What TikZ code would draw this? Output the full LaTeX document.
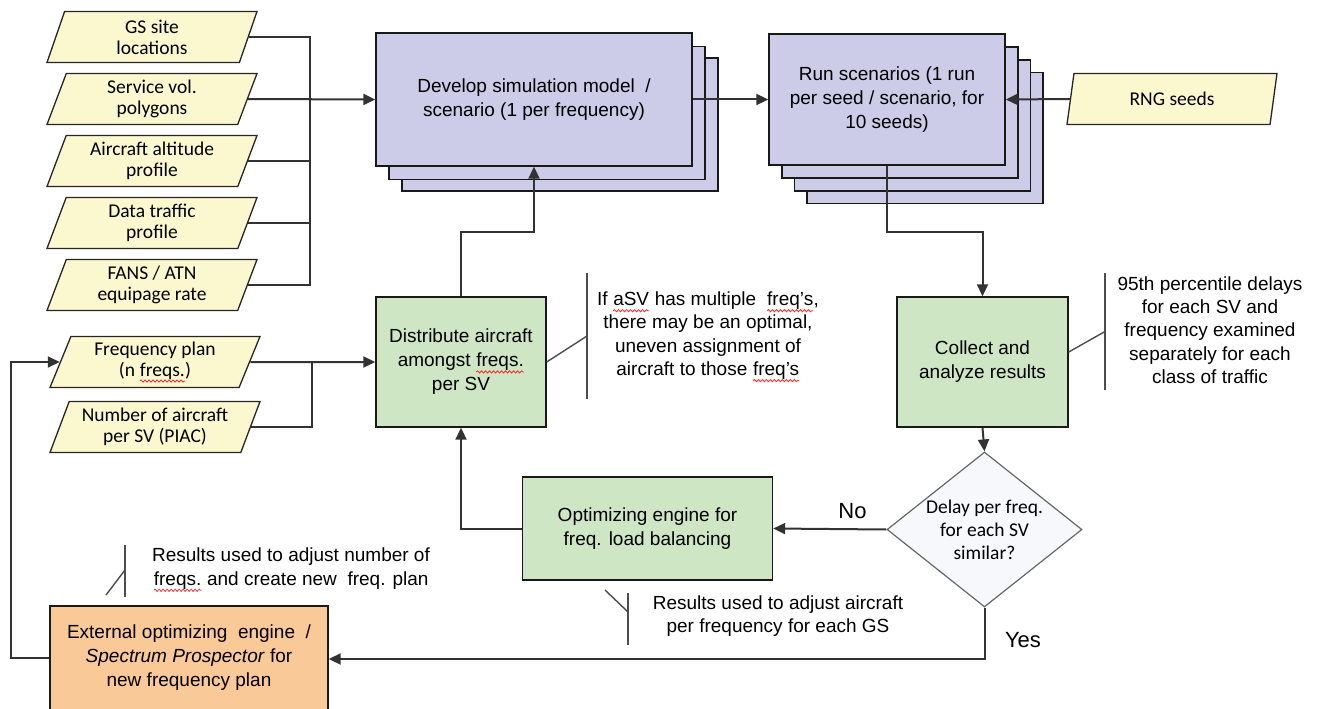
\documentclass[tikz,border=0pt]{standalone}
\usepackage{fontspec}
\setmainfont{Liberation Sans}
\newfontfamily\calibri{Carlito}
\usetikzlibrary{shapes.geometric}
\usetikzlibrary{shadows}
\usetikzlibrary{arrows.meta}
\usetikzlibrary{calc}
\usetikzlibrary{decorations.pathmorphing}

\definecolor{datafill}{RGB}{251,247,206}
\definecolor{simfill}{RGB}{204,204,232}
\definecolor{procfill}{RGB}{207,230,197}
\definecolor{extfill}{RGB}{250,201,152}
\definecolor{decfill}{RGB}{247,248,252}
\definecolor{wire}{RGB}{50,50,50}

% red wavy mark under a word
\newcommand{\spellmark}[1]{\tikz[baseline=(w.base)]{%
	\node[rectangle, draw=none, fill=none, inner sep=0pt, outer sep=0pt,
		minimum width=0pt, minimum height=0pt] (w) {#1};
	\draw[red!85, line width=0.8pt, decorate,
		decoration={snake, amplitude=1.1pt, segment length=4pt}]
		([yshift=-5pt]w.base west) -- ([yshift=-5pt]w.base east);}}

\tikzset{
	datain/.style={trapezium, trapezium left angle=63, trapezium right angle=117,
		trapezium stretches body=true,
		draw=black!85, line width=1.3pt, fill=datafill, minimum width=210pt,
		minimum height=51pt, inner sep=0pt, align=center,
		font=\calibri\fontsize{19.5}{21}\selectfont},
	proc/.style={rectangle, draw=black!90, line width=1.4pt, fill=procfill,
		inner sep=0pt, align=center, font=\fontsize{19}{24}\selectfont},
	simbox/.style={proc, fill=simfill},
	decide/.style={diamond, draw=black!60, line width=1.2pt, fill=decfill,
		minimum width=195pt, minimum height=155pt, aspect=1.26, inner sep=0pt,
		align=center, font=\calibri\fontsize{19.5}{23}\selectfont},
	notetext/.style={align=center, inner sep=0pt, font=\fontsize{19}{23.3}\selectfont},
	yesno/.style={inner sep=0pt, font=\fontsize{22}{24}\selectfont},
	line/.style={draw=wire, line width=2pt},
	arr/.style={line, -{Triangle[length=12pt,width=11pt]}},
	note/.style={draw=black!70, line width=1.4pt}
}

\begin{document}
\begin{tikzpicture}[x=1pt,y=-1pt]
	\useasboundingbox (0,0) rectangle (1318,709);

	% inputs
	\node[datain] (gs) at (152,37) {GS site\\locations};
	\node[datain] (svp) at (152,99) {Service vol.\\polygons};
	\node[datain] (alt) at (152,161) {Aircraft altitude\\profile};
	\node[datain] (dtp) at (152,223) {Data traffic\\profile};
	\node[datain] (fans) at (152,285) {FANS / ATN\\equipage rate};
	\node[datain] (fplan) at (155,362) {Frequency plan\\(n \spellmark{freqs.})};
	\node[datain] (nac) at (155,427) {Number of aircraft\\per SV (PIAC)};
	\node[datain] (rng) at (1172,99) {RNG seeds};

	% stacked boxes
	\node[simbox, minimum width=316pt, minimum height=133pt,
		copy shadow={shadow xshift=26pt, shadow yshift=-25pt},
		copy shadow={shadow xshift=13pt, shadow yshift=-13.5pt}]
		(dev) at (534,99.5) {Develop simulation model~ /\\scenario (1 per frequency)};
	\node[simbox, minimum width=236pt, minimum height=131pt,
		copy shadow={shadow xshift=38pt, shadow yshift=-38.5pt},
		copy shadow={shadow xshift=25.5pt, shadow yshift=-26pt},
		copy shadow={shadow xshift=13pt, shadow yshift=-13pt}]
		(run) at (887,99.5) {Run scenarios (1 run\\per seed / scenario, for\\10 seeds)};

	\node[proc, minimum width=171pt, minimum height=130pt] (collect) at (982.5,362) {Collect and\\analyze results};
	\node[proc, minimum width=170pt, minimum height=130pt] (dist) at (461,362) {Distribute aircraft\\amongst \spellmark{freqs.}\\per SV};
	\node[proc, minimum width=250pt, minimum height=103pt] (opt) at (647.5,528.5) {Optimizing engine for\\freq. load balancing};
	\node[proc, fill=extfill, minimum width=278pt, minimum height=104pt] (ext) at (189,658)
		{External optimizing~ engine~ /\\\textit{Spectrum Prospector} for\\new frequency plan};
	\node[decide] (sim) at (984.5,529.5) {Delay per freq.\\for each SV\\similar?};

	% input buses
	\coordinate (bus1) at (310,99);
	\coordinate (bus2) at (312,362);
	\draw[line] (gs.east) -| (bus1);
	\draw[line] (fans.east) -| (bus1);
	\draw[line] (alt.east) -- (alt.east -| bus1);
	\draw[line] (dtp.east) -- (dtp.east -| bus1);
	\draw[arr] (svp.east) -- (dev.west);
	\draw[line] (nac.east) -| (bus2);
	\draw[arr] (fplan.east) -- (dist.west);

	% main flow
	\coordinate (runbend) at (887,232);
	\coordinate (distbend) at (461,232);
	\coordinate (yesbend) at (984.5,659);
	\coordinate (loopx) at (11,500);
	\draw[arr] (dev.east) -- (run.west);
	\draw[arr] (rng.west) -- (run.east);
	\draw[arr] (run.south) -- (runbend) -| (collect.north);
	\draw[arr] (collect.south) -- (sim.north);
	\draw[arr] (sim.west) -- (opt.east) node[yesno, pos=0.3, above=9pt] (no) {No};
	\draw[arr] (sim.south) -- (yesbend) -- (yesbend -| ext.east);
	\node[yesno] (yes) at (1023,640) {Yes};
	\draw[arr] (opt.west) -| (dist.south);
	\draw[arr] (dist.north) -- (distbend) -| (dev.south);
	\draw[arr] (ext.west) -| (loopx) |- (fplan.west);

	% annotations
	\coordinate (n1a) at (587,273);
	\coordinate (n1b) at (587,399);
	\draw[note] (n1a) -- (n1b);
	\draw[note] (dist.east) -- ($(n1a)!0.5!(n1b)$);
	\node[notetext] (n1) at (708,337) {If \spellmark{aSV} has multiple~ \spellmark{freq's},\\there may be an optimal,\\uneven assignment of\\aircraft to those \spellmark{freq's}};

	\coordinate (n2a) at (1105,273);
	\coordinate (n2b) at (1105,390);
	\draw[note] (n2a) -- (n2b);
	\draw[note] ([yshift=10pt]collect.east) -- ($(n2a)!0.5!(n2b)$);
	\node[notetext] (n2) at (1210,330) {95th percentile delays\\for each SV and\\frequency examined\\separately for each\\class of traffic};

	\coordinate (n3a) at (628,593);
	\coordinate (n3b) at (628,645);
	\coordinate (n3c) at (605,590);
	\draw[note] (n3a) -- (n3b);
	\draw[note] (n3c) -- (628,612);
	\node[notetext] (n3) at (778,616) {Results used to adjust aircraft\\per frequency for each GS};

	\coordinate (n4a) at (125,545);
	\coordinate (n4b) at (125,597);
	\coordinate (n4c) at (106,595);
	\draw[note] (n4a) -- (n4b);
	\draw[note] (n4c) -- (125,570);
	\node[notetext] (n4) at (291,570) {Results used to adjust number of\\\spellmark{freqs.} and create new~ freq. plan};
\end{tikzpicture}
\end{document}
